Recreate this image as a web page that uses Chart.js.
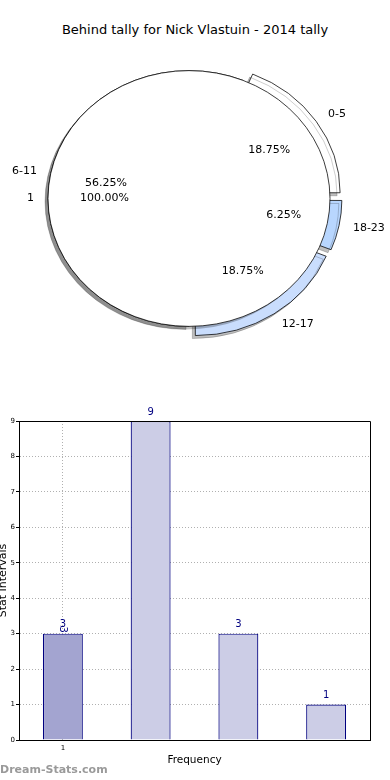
<!DOCTYPE html>
<html lang="en">
<head>
<meta charset="UTF-8">
<title>Behind tally - Nick Vlastuin</title>
<script src="https://cdn.jsdelivr.net/npm/chart.js"></script>
<style>
    body {
        margin: 0;
        width: 390px;
        height: 780px;
        position: relative;
        overflow: hidden;
        background: #fff;
        font-family: 'DejaVu Sans', sans-serif;
    }
    #title {
        position: absolute;
        top: 21px;
        left: 0;
        width: 390px;
        text-align: center;
        font-size: 13px;
        line-height: 18px;
        color: #000;
    }
    .layer { position: absolute; left: 0; top: 0; }
    #barChart { position: absolute; left: 0; top: 400px; }
    #mark {
        position: absolute;
        left: 0;
        top: 763px;
        font-size: 11px;
        line-height: 13px;
        font-weight: bold;
        color: #9a9a9a;
    }
</style>
</head>
<body>
<div id="title">Behind tally for Nick Vlastuin - 2014 tally</div>
<canvas id="pieOuter" class="layer" width="390" height="380"></canvas>
<canvas id="pieInner" class="layer" width="390" height="380"></canvas>
<canvas id="barChart" width="390" height="380"></canvas>
<div id="mark">Dream-Stats.com</div>
<script>
const INTERVALS = ['0-5', '6-11', '12-17', '18-23'];
const COUNTS = [3, 9, 3, 1];
const INNER_LABELS = ['1'];
const INNER_COUNTS = [1];
const BAR_TICKS = ['1', '', '', ''];

Chart.defaults.font.family = "'DejaVu Sans', sans-serif";
Chart.defaults.color = '#000';

const SLICE_COLORS = { '0-5': '#ffffff', '6-11': '#ffffff', '12-17': '#c9ddfd', '18-23': '#b8d6fe' };
const R = 141;          // pie radius, px
const SQUASH = 0.907;   // the pie is an ellipse in the original
const EXPLODE = 12;     // how far the outer slices stick out
const PIE_PAD = { left: 0, right: 12, top: 17, bottom: 0 };

// chart.js goes clockwise from 3 o'clock here, the original goes the other way round
const pieLabels = INTERVALS.slice().reverse();
const pieCounts = COUNTS.slice().reverse();
const sum = arr => arr.reduce((a, b) => a + b, 0);

function explodeOffset(ctx) {
    if (ctx.type !== 'data' || pieLabels[ctx.dataIndex] === '6-11') return 0;
    const circ = pieCounts[ctx.dataIndex] / sum(pieCounts) * Math.PI * 2;
    const fix = 1 - Math.sin(Math.min(Math.PI, circ));
    return EXPLODE * 4 / (1 + fix);
}

// squash into an ellipse and add the drop shadow
const pieLook = {
    id: 'pieLook',
    beforeDatasetsDraw(chart) {
        const { ctx, chartArea: a } = chart;
        const cx = (a.left + a.right) / 2, cy = (a.top + a.bottom) / 2;
        ctx.save();
        ctx.translate(cx, cy);
        ctx.scale(1, SQUASH);
        ctx.translate(-cx, -cy);
        ctx.shadowColor = 'rgba(0, 0, 0, 0.25)';
        ctx.shadowOffsetX = -3;
        ctx.shadowOffsetY = 3;
    },
    afterDatasetsDraw(chart, args, opts) {
        const ctx = chart.ctx;
        if (opts.ring) {
            // a single whole slice: outline it as a plain circle (chart.js would add a radius line)
            ctx.shadowColor = 'rgba(0, 0, 0, 0)';
            ctx.strokeStyle = '#000';
            ctx.lineWidth = 0.8;
            chart.getDatasetMeta(0).data.forEach(arc => {
                ctx.beginPath();
                ctx.arc(arc.x, arc.y, arc.outerRadius, 0, Math.PI * 2);
                ctx.stroke();
            });
        }
        ctx.restore();
    }
};

function pieOptions(extra) {
    return {
        responsive: false,
        animation: false,
        events: [],
        rotation: 90,
        radius: R,
        layout: { padding: PIE_PAD },
        plugins: Object.assign({ legend: { display: false }, tooltip: { enabled: false } }, extra || {})
    };
}

const outerChart = new Chart(document.getElementById('pieOuter'), {
    type: 'pie',
    data: {
        labels: pieLabels,
        datasets: [{
            data: pieCounts,
            backgroundColor: pieLabels.map(l => SLICE_COLORS[l]),
            borderColor: '#000',
            borderWidth: 0.8,
            offset: explodeOffset
        }]
    },
    options: pieOptions(),
    plugins: [pieLook]
});

function drawPieText(ctx, chart, labels, counts, exploded) {
    const total = sum(counts);
    chart.getDatasetMeta(0).data.forEach((arc, i) => {
        const mid = (arc.startAngle + arc.endAngle) / 2;
        const cos = Math.cos(mid), sin = Math.sin(mid);
        const shift = exploded && labels[i] !== '6-11' ? EXPLODE : 0;
        const lr = 1.1 * R + shift, pr = 0.6 * R + shift;
        ctx.textBaseline = 'middle';
        ctx.textAlign = cos > 0 ? 'left' : 'right';
        ctx.fillText(labels[i], arc.x + lr * cos, arc.y + lr * sin * SQUASH);
        ctx.textAlign = 'center';
        ctx.fillText((counts[i] / total * 100).toFixed(2) + '%', arc.x + pr * cos, arc.y + pr * sin * SQUASH);
    });
}

const pieText = {
    id: 'pieText',
    afterDraw(chart) {
        const ctx = chart.ctx;
        ctx.save();
        ctx.font = "11px 'DejaVu Sans', sans-serif";
        ctx.fillStyle = '#000';
        drawPieText(ctx, outerChart, pieLabels, pieCounts, true);
        drawPieText(ctx, chart, INNER_LABELS, INNER_COUNTS, false);
        ctx.restore();
    }
};

new Chart(document.getElementById('pieInner'), {
    type: 'pie',
    data: {
        labels: INNER_LABELS,
        datasets: [{
            data: INNER_COUNTS,
            backgroundColor: '#ffffff',
            borderWidth: 0
        }]
    },
    options: pieOptions({ pieLook: { ring: true } }),
    plugins: [pieLook, pieText]
});

// bar chart
const BAR_DARK = '#a3a4d0';
const BAR_LIGHT = '#cccde6';
const BAR_EDGE = '#000080';

const boxPlugin = {
    id: 'box',
    afterDraw(chart) {
        const { ctx, chartArea: a } = chart;
        ctx.save();
        ctx.strokeStyle = '#000';
        ctx.lineWidth = 1;
        ctx.beginPath();
        ctx.moveTo(a.left, Math.round(a.top) + 0.5);
        ctx.lineTo(Math.round(a.right) + 0.5, Math.round(a.top) + 0.5);
        ctx.lineTo(Math.round(a.right) + 0.5, a.bottom);
        ctx.stroke();
        ctx.restore();
    }
};

const valuePlugin = {
    id: 'values',
    afterDatasetsDraw(chart) {
        const ctx = chart.ctx;
        ctx.save();
        ctx.font = "10px 'DejaVu Sans', sans-serif";
        ctx.fillStyle = BAR_EDGE;
        ctx.textAlign = 'center';
        chart.getDatasetMeta(0).data.forEach((bar, i) => {
            const v = String(COUNTS[i]);
            ctx.textBaseline = 'bottom';
            ctx.fillText(v, bar.x, bar.y - 4);
            if (i === 0) {
                // the first bar also carries a turned copy of its label
                ctx.save();
                ctx.translate(bar.x, bar.y - 4);
                ctx.rotate(Math.PI / 2);
                ctx.textBaseline = 'middle';
                ctx.fillText(v, 0, 0);
                ctx.restore();
            }
        });
        ctx.restore();
    }
};

new Chart(document.getElementById('barChart'), {
    type: 'bar',
    data: {
        labels: BAR_TICKS,
        datasets: [{
            data: COUNTS,
            backgroundColor: c => c.dataIndex === 0 ? BAR_DARK : BAR_LIGHT,
            borderColor: BAR_EDGE,
            borderWidth: 1.2,
            barPercentage: 0.455,
            categoryPercentage: 1
        }]
    },
    options: {
        responsive: false,
        animation: false,
        events: [],
        layout: { padding: { top: 21, right: 20, left: 0, bottom: 0 } },
        plugins: { legend: { display: false }, tooltip: { enabled: false } },
        scales: {
            x: {
                grid: {
                    offset: false,
                    color: c => c.index === 0 ? '#b0b0b0' : 'rgba(0,0,0,0)',
                    drawTicks: false
                },
                border: { color: '#000', dash: [1, 2] },
                ticks: { font: { size: 7 }, padding: 4, color: '#000', autoSkip: false, maxRotation: 0 },
                title: { display: true, text: 'Frequency', font: { size: 10.5 }, padding: { top: 0, bottom: 13 } },
                afterFit: s => { s.height = 40; }
            },
            y: {
                min: 0,
                max: Math.max(...COUNTS),
                ticks: { stepSize: 1, font: { size: 7 }, padding: 1, color: '#000' },
                grid: { color: '#b0b0b0', tickColor: '#000', tickLength: 3 },
                border: { color: '#000', dash: [1, 2] },
                title: { display: true, text: 'Stat Intervals', font: { size: 11 }, padding: { top: -3, bottom: 0 } },
                afterFit: s => { s.width = 19; }
            }
        }
    },
    plugins: [boxPlugin, valuePlugin]
});
</script>
</body>
</html>
